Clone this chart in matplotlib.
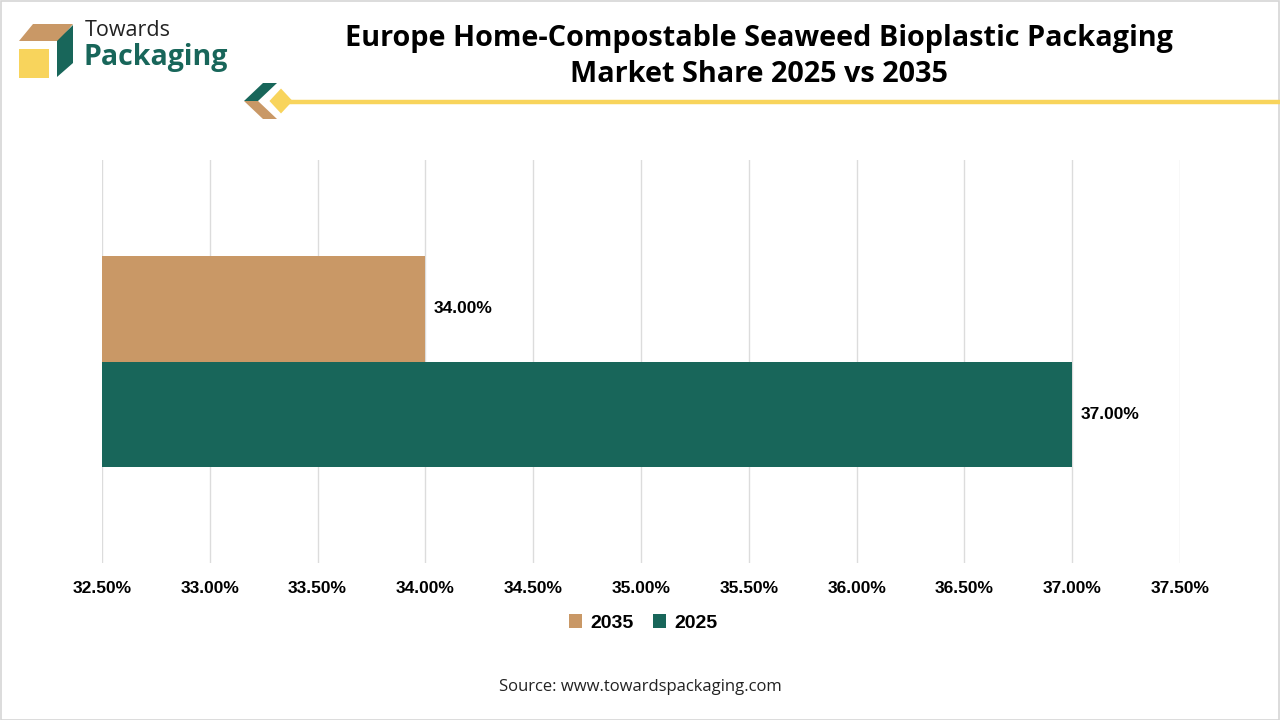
import matplotlib
matplotlib.use("Agg")
import matplotlib.pyplot as plt
from matplotlib.patches import Polygon, Rectangle
import numpy as np

# ---- data ----
categories = ["Europe"]
series_names = ["2035", "2025"]
values_2035 = [34.00]
values_2025 = [37.00]
xticks = [32.5, 33.0, 33.5, 34.0, 34.5, 35.0, 35.5, 36.0, 36.5, 37.0, 37.5]
xtick_labels = [f"{v:.2f}%" for v in xticks]

title = "Europe Home-Compostable Seaweed Bioplastic Packaging\nMarket Share 2025 vs 2035"
source = "Source: www.towardspackaging.com"

c_tan = "#C99866"
c_green = "#18665A"
c_yellow = "#F8D45C"

W, H = 1280, 720
fig = plt.figure(figsize=(12.8, 7.2), dpi=100)
fig.patch.set_facecolor("white")

def fx(px):
    return px / W

def fy(py):
    return 1 - py / H

# border
fig.add_artist(Rectangle((0.5 / W, 0.5 / H), 1 - 1.5 / W, 1 - 1.5 / H, transform=fig.transFigure,
                         fill=False, edgecolor="#D5D5D5", linewidth=1.2))

# logo
fig.add_artist(Polygon([(fx(33), fy(24)), (fx(73), fy(24)), (fx(59), fy(41)), (fx(19), fy(41))],
                       closed=True, transform=fig.transFigure, facecolor=c_tan, edgecolor="none"))
fig.add_artist(Polygon([(fx(73), fy(25)), (fx(73), fy(63)), (fx(57), fy(77)), (fx(57), fy(41))],
                       closed=True, transform=fig.transFigure, facecolor=c_green, edgecolor="none"))
fig.add_artist(Rectangle((fx(19), fy(78)), fx(30), 29 / H, transform=fig.transFigure,
                         facecolor=c_yellow, edgecolor="none"))
fig.text(fx(85), fy(31), "Towards", fontsize=15.5, family="Open Sans", color="#222222",
         va="center", ha="left")
fig.text(fx(84), fy(58), "Packaging", fontsize=20.5, family="Open Sans", fontweight="bold",
         color=c_green, va="center", ha="left")

# title decoration
fig.add_artist(plt.Line2D([fx(288), fx(1280)], [fy(101.5), fy(101.5)], transform=fig.transFigure,
                          color=c_yellow, linewidth=3.2))
fig.add_artist(Polygon([(fx(244), fy(101)), (fx(263), fy(83)), (fx(277), fy(83)), (fx(258), fy(101))],
                       closed=True, transform=fig.transFigure, facecolor=c_green, edgecolor="none"))
fig.add_artist(Polygon([(fx(244), fy(101)), (fx(258), fy(101)), (fx(277), fy(119)), (fx(263), fy(119))],
                       closed=True, transform=fig.transFigure, facecolor=c_tan, edgecolor="none"))
fig.add_artist(Polygon([(fx(268), fy(101)), (fx(281), fy(87)), (fx(294), fy(101)), (fx(281), fy(115))],
                       closed=True, transform=fig.transFigure, facecolor=c_yellow, edgecolor="white",
                       linewidth=1.5))

fig.text(fx(759), fy(56.5), title, fontsize=20.8, family="Open Sans", fontweight="bold",
         ha="center", va="center", linespacing=1.32, color="black")

# axes
left, right, top, bottom = 102, 1180, 160, 563
ax = fig.add_axes([fx(left), fy(bottom), (right - left) / W, (bottom - top) / H])
ax.set_xlim(xticks[0], xticks[-1])
ax.set_ylim(-1, 1)

y = np.arange(len(categories))
bh = 0.523
b1 = ax.barh(y + bh / 2, [v - xticks[0] for v in values_2035], left=xticks[0], height=bh,
             color=c_tan, label=series_names[0])
b2 = ax.barh(y - bh / 2, [v - xticks[0] for v in values_2025], left=xticks[0], height=bh,
             color=c_green, label=series_names[1])

for yy, v in zip(y + bh / 2, values_2035):
    ax.annotate(f"{v:.2f}%", (v, yy), xytext=(6, 0), textcoords="offset points",
                va="center", ha="left", fontsize=12.5, fontweight="bold", family="Liberation Sans")
for yy, v in zip(y - bh / 2, values_2025):
    ax.annotate(f"{v:.2f}%", (v, yy), xytext=(6, 0), textcoords="offset points",
                va="center", ha="left", fontsize=12.5, fontweight="bold", family="Liberation Sans")

ax.set_xticks(xticks)
ax.set_xticklabels(xtick_labels, fontsize=12.5, fontweight="bold", family="Liberation Sans")
ax.set_yticks([])
ax.tick_params(axis="x", length=0, pad=13)
ax.grid(axis="x", color="#DCDCDC", linewidth=1)
ax.set_axisbelow(True)
for s in ax.spines.values():
    s.set_visible(False)

leg = fig.legend(handles=[b1, b2], labels=series_names, loc="center", ncol=2,
                 bbox_to_anchor=(fx(643), fy(623)), frameon=False,
                 prop={"family": "Liberation Sans", "weight": "bold", "size": 14},
                 handlelength=0.7, handleheight=0.7, handletextpad=0.4, columnspacing=1.0)

fig.text(fx(640), fy(687), source, fontsize=12, family="Open Sans", ha="center", va="center",
         color="#222222")

fig.savefig("out.png", dpi=100, facecolor="white")
